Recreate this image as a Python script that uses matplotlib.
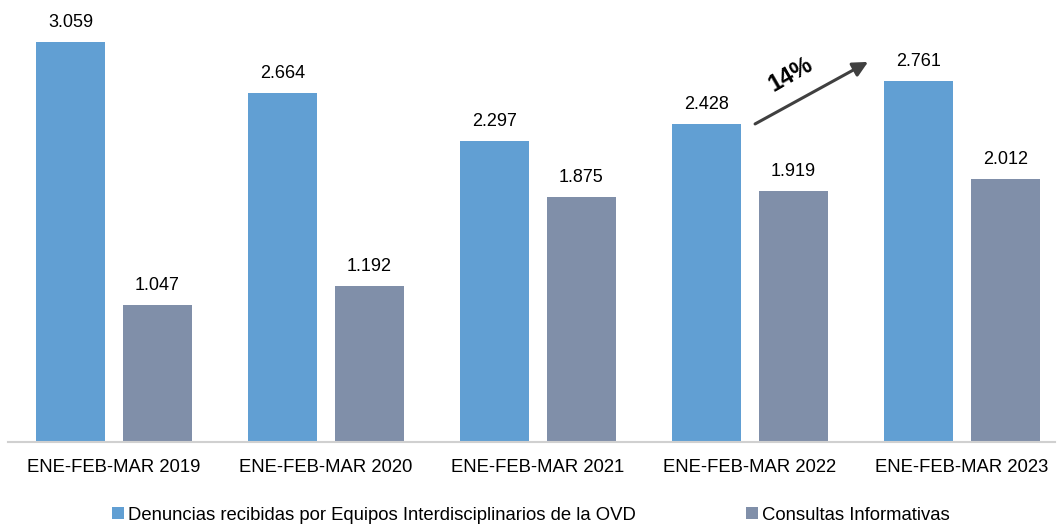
import matplotlib
matplotlib.use("Agg")
import matplotlib.pyplot as plt
import numpy as np

plt.rcParams['font.family'] = ['Liberation Sans', 'DejaVu Sans']

categories = ["ENE-FEB-MAR 2019", "ENE-FEB-MAR 2020", "ENE-FEB-MAR 2021",
              "ENE-FEB-MAR 2022", "ENE-FEB-MAR 2023"]
denuncias = [3059, 2664, 2297, 2428, 2761]
consultas = [1047, 1192, 1875, 1919, 2012]
series_names = ["Denuncias recibidas por Equipos Interdisciplinarios de la OVD",
                "Consultas Informativas"]
growth_label = "14%"

blue = "#619fd3"
gray = "#808fa9"

fig = plt.figure(figsize=(10.58, 5.27), dpi=100)
ax = fig.add_axes([8/1058, 85/527, 1047/1058, 437/527])

x = np.arange(len(categories))
w = 0.322
off = 0.205
b1 = ax.bar(x - off, denuncias, w, color=blue, label=series_names[0])
b2 = ax.bar(x + off, consultas, w, color=gray, label=series_names[1])

def fmt(v):
    return f"{v:,}".replace(",", ".")

for bars, vals in ((b1, denuncias), (b2, consultas)):
    for r, v in zip(bars, vals):
        ax.text(r.get_x() + r.get_width()/2, v + 85, fmt(v), ha="center",
                va="bottom", fontsize=13, color="#000000")

ax.set_xlim(-0.5, -0.5 + 1047/212)
ax.set_ylim(0, 3340)
ax.set_yticks([])
ax.set_xticks(x)
ax.set_xticklabels(categories, fontsize=13.3)
ax.tick_params(axis="x", length=0, pad=12.5)
for s in ("top", "right", "left"):
    ax.spines[s].set_visible(False)
ax.spines["bottom"].set_color("#d0d0d0")
ax.spines["bottom"].set_linewidth(1.5)

# growth arrow
ax.annotate("", xy=(3.557, 2905), xytext=(3.024, 2431),
            arrowprops=dict(arrowstyle="-|>,head_length=0.9,head_width=0.45",
                            color="#404040", lw=2.2, shrinkA=0, shrinkB=0))
ax.text(3.19, 2810, growth_label, rotation=30, fontsize=17, fontweight="bold",
        ha="center", va="center", color="#000000")

fig.legend(handles=[b1, b2], labels=series_names, loc="center",
           bbox_to_anchor=(531/1058, 1 - 515/527), ncol=2, frameon=False,
           fontsize=13.3, handlelength=0.65, handleheight=0.65, handletextpad=0.2,
           columnspacing=6.0, borderaxespad=0)

fig.savefig("out.png", dpi=100)
